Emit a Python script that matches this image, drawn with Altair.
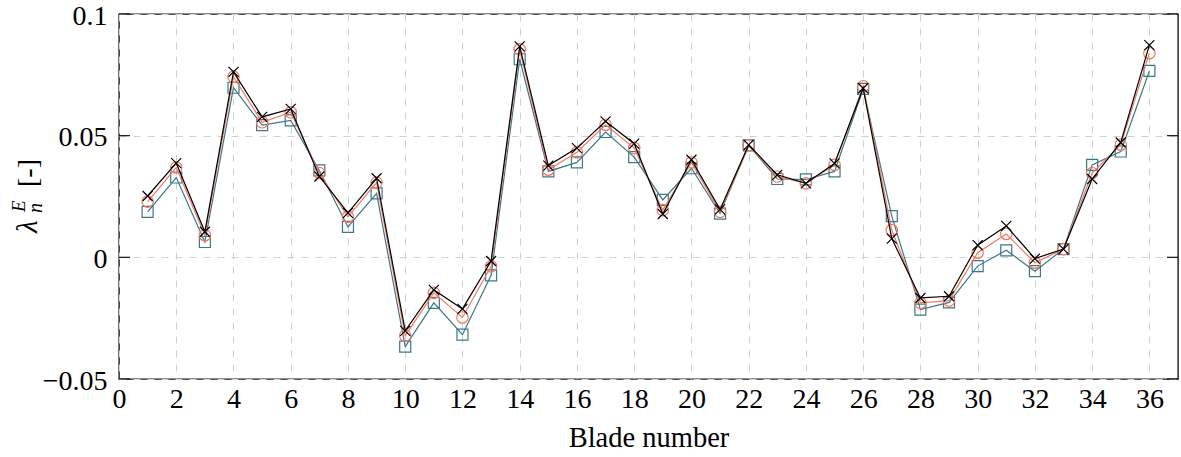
import altair as alt
import pandas as pd

blades = list(range(1, 37))

black_x = [0.0252, 0.0387, 0.0105, 0.0762, 0.0577, 0.0610, 0.0332, 0.0183, 0.0325,
           -0.0302, -0.0134, -0.0212, -0.0015, 0.0867, 0.0377, 0.0449, 0.0559, 0.0467,
           0.0178, 0.0401, 0.0197, 0.0462, 0.0339, 0.0304, 0.0386, 0.0695, 0.0077,
           -0.0167, -0.0160, 0.0050, 0.0129, -0.0005, 0.0034, 0.0322, 0.0472, 0.0872]
red_o = [0.0229, 0.0369, 0.0091, 0.0742, 0.0555, 0.0596, 0.0346, 0.0167, 0.0307,
         -0.0322, -0.0146, -0.0247, -0.0037, 0.0855, 0.0360, 0.0432, 0.0545, 0.0449,
         0.0194, 0.0390, 0.0187, 0.0460, 0.0332, 0.0304, 0.0380, 0.0703, 0.0112,
         -0.0187, -0.0178, 0.0019, 0.0096, -0.0022, 0.0034, 0.0346, 0.0463, 0.0839]
blue_s = [0.0187, 0.0328, 0.0063, 0.0697, 0.0543, 0.0563, 0.0357, 0.0125, 0.0263,
          -0.0367, -0.0187, -0.0318, -0.0074, 0.0814, 0.0353, 0.0390, 0.0515, 0.0412,
          0.0236, 0.0366, 0.0180, 0.0460, 0.0322, 0.0320, 0.0353, 0.0692, 0.0169,
          -0.0215, -0.0185, -0.0036, 0.0029, -0.0057, 0.0034, 0.0380, 0.0435, 0.0766]

x_ticks = list(range(0, 37, 2))
y_ticks = [-0.05, 0, 0.05, 0.1]

W, H = 1059, 365
FONT = "Liberation Serif"
BLUE = "#3b7888"
RED = "#f2785e"
BLACK = "#000000"
GRID = "#c9d2d5"
XPATH = "M-1,-1L1,1M-1,1L1,-1"

xs = alt.Scale(domain=[0, 37], nice=False, zero=False)
ys = alt.Scale(domain=[-0.05, 0.1], nice=False, zero=False)

X_AXIS = alt.Axis(
    values=x_ticks, title="Blade number",
    grid=True, gridDash=[7, 7], gridColor=GRID, gridWidth=1,
    ticks=False, tickSize=0, domain=False, labelPadding=6, labelFlush=False,
    labelFont=FONT, labelFontSize=28, labelColor="black",
    titleFont=FONT, titleFontSize=28.5, titleFontWeight="normal",
    titleColor="black", titlePadding=10)
Y_AXIS = alt.Axis(
    values=y_ticks, format=".2~f", title="",
    grid=True, gridDash=[7, 7], gridColor=GRID, gridWidth=1,
    ticks=False, tickSize=0, domain=False, labelPadding=12, labelFlush=False,
    labelOffset=2,
    labelFont=FONT, labelFontSize=28, labelColor="black")


def X():
    return alt.X("blade:Q", scale=xs, axis=X_AXIS)


def Y():
    return alt.Y("value:Q", scale=ys, axis=Y_AXIS)


def series(vals, color, shape, size):
    d = pd.DataFrame({"blade": blades, "value": vals})
    base = alt.Chart(d).encode(x=X(), y=Y())
    line = base.mark_line(color=color, strokeWidth=1.2)
    pts = base.mark_point(color=color, shape=shape, size=size, filled=False,
                          strokeWidth=1.2, opacity=1)
    return line + pts


tick_df = pd.DataFrame({"value": y_ticks})
left_ticks = alt.Chart(tick_df).mark_rule(color="#111", strokeWidth=1.2).encode(
    y=Y(), x=alt.value(0), x2=alt.value(11))
right_ticks = alt.Chart(tick_df).mark_rule(color="#111", strokeWidth=1.2).encode(
    y=Y(), x=alt.value(W - 11), x2=alt.value(W))
xgrid = alt.Chart(pd.DataFrame({"blade": x_ticks})).mark_rule(opacity=0).encode(
    x=X(), y=alt.value(0), y2=alt.value(1))


# y-axis title  λ_n^E [-]  built from pieces (rotated)
def ylabel_piece(txt, x, y, size, style):
    return alt.Chart(pd.DataFrame({"t": [txt]})).mark_text(
        angle=270, align="left", baseline="alphabetic", font=FONT,
        fontSize=size, fontStyle=style, color="black").encode(
        text="t:N", x=alt.value(x), y=alt.value(y))


ytitle = (
    ylabel_piece("λ", -82, 219, 29, "italic")
    + ylabel_piece("n", -77, 199, 20, "italic")
    + ylabel_piece("E", -94, 198, 19, "italic")
    + ylabel_piece("[-]", -82, 173, 28, "normal")
)

chart = alt.layer(
    xgrid, left_ticks, right_ticks,
    series(blue_s, BLUE, "square", 121),
    series(red_o, RED, "circle", 130),
    series(black_x, BLACK, XPATH, 100),
    ytitle,
).properties(
    width=W, height=H,
    autosize=alt.AutoSizeParams(type="none"),
    padding={"left": 119, "top": 14, "right": 3, "bottom": 78},
    background="white",
).configure_view(stroke="#1a1a1a", strokeWidth=1.4)

chart.save("out.html", embed_options={"renderer": "svg", "actions": False})
